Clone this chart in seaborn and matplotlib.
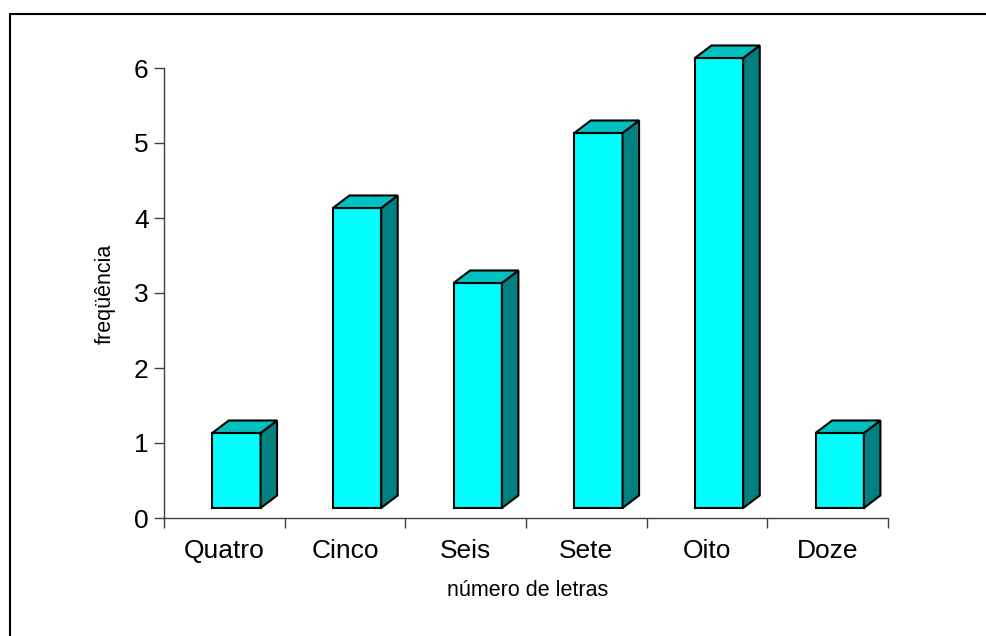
import matplotlib
matplotlib.use("Agg")
import matplotlib.pyplot as plt
from matplotlib.patches import Polygon
from matplotlib.lines import Line2D
import seaborn as sns
import pandas as pd

categories = ["Quatro", "Cinco", "Seis", "Sete", "Oito", "Doze"]
values = [1, 4, 3, 5, 6, 1]
y_ticks = [0, 1, 2, 3, 4, 5, 6]
x_label = "número de letras"
y_label = "freqüência"

front_color = "#00FFFF"
top_color = "#00C0C0"
side_color = "#008080"

sns.set_theme(style="white")
plt.rcParams["font.family"] = ["Liberation Sans", "DejaVu Sans"]
plt.rcParams["text.color"] = "black"
plt.rcParams["xtick.labelcolor"] = "black"
plt.rcParams["ytick.labelcolor"] = "black"

W, H = 986, 636
fig = plt.figure(figsize=(W / 100, H / 100), dpi=100)
ax = fig.add_axes([164 / W, 1 - 518 / H, (888 - 164) / W, (518 - 68) / H])

df = pd.DataFrame({"cat": categories, "val": values})
sns.barplot(data=df, x="cat", y="val", color=front_color, saturation=1,
            width=0.4, edgecolor="black", linewidth=1.5, ax=ax, zorder=3)

base = 10 / 75          # front face lifted above the floor (3D look)
shift = 0.1             # front face shifted right within category
ddx, ddy = 0.137, 0.167 # depth offset in data units

for p, v in zip(ax.patches, values):
    x0 = p.get_x() + shift
    w = p.get_width()
    p.set_x(x0)
    p.set_y(base)
    p.set_height(v)
    p.set_clip_on(False)
    p.set_facecolor(front_color)
    xl, xr = x0, x0 + w
    yb, yt = base, base + v
    top = Polygon([(xl, yt), (xr, yt), (xr + ddx, yt + ddy), (xl + ddx, yt + ddy)],
                  closed=True, facecolor=top_color, edgecolor="black",
                  linewidth=1.5, clip_on=False, zorder=3, joinstyle="miter")
    side = Polygon([(xr, yb), (xr + ddx, yb + ddy), (xr + ddx, yt + ddy), (xr, yt)],
                   closed=True, facecolor=side_color, edgecolor="black",
                   linewidth=1.5, clip_on=False, zorder=3, joinstyle="miter")
    ax.add_patch(side)
    ax.add_patch(top)

ax.set_xlim(-0.5, len(categories) - 0.5)
ax.set_ylim(0, 6)
ax.set_yticks(y_ticks)
ax.set_yticklabels([str(t) for t in y_ticks], fontsize=19, color="black")

# category boundaries as major ticks, labels at centers (minor)
ax.set_xticks([i - 0.5 for i in range(len(categories) + 1)])
ax.set_xticklabels([])
ax.set_xticks(range(len(categories)), minor=True)
ax.set_xticklabels(categories, minor=True, fontsize=19, color="black")
ax.tick_params(axis="x", which="minor", length=0, pad=15)
ax.tick_params(axis="x", which="major", direction="out", length=7, width=1,
               color="#404040", bottom=True)
ax.tick_params(axis="y", direction="out", length=7, width=1, color="#404040",
               left=True, pad=4)

for s in ["top", "right"]:
    ax.spines[s].set_visible(False)
for s in ["left", "bottom"]:
    ax.spines[s].set_color("#404040")
    ax.spines[s].set_linewidth(1)

ax.set_xlabel("")
ax.set_ylabel("")
fig.text(528 / W, 1 - 591 / H, x_label, ha="center", va="center", fontsize=15.5,
         color="black")
fig.text(105 / W, 1 - 294 / H, y_label, ha="center", va="center", rotation=90,
         fontsize=15.5, color="black")

# outer frame (left and top edges)
fig.add_artist(Line2D([10 / W, 10 / W], [0, 1 - 14 / H], transform=fig.transFigure,
                      color="black", linewidth=1.5))
fig.add_artist(Line2D([10 / W, 1], [1 - 14 / H, 1 - 14 / H], transform=fig.transFigure,
                      color="black", linewidth=1.5))

fig.savefig("out.png", dpi=100)
